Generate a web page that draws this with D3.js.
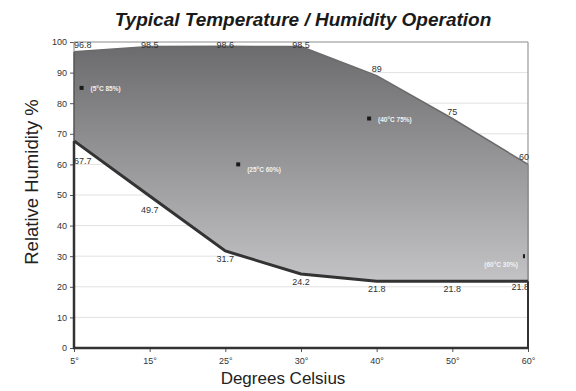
<!DOCTYPE html>
<html><head><meta charset="utf-8">
<script src="https://cdn.jsdelivr.net/npm/d3@7"></script>
<style>body{margin:0;background:#fff}svg{display:block;font-family:"Liberation Sans",Arial,sans-serif}</style>
</head><body><svg id="c" width="576" height="391"></svg>
<script>
const categories = ["5°","15°","25°","30°","40°","50°","60°"];
const upperHumidity = [96.8, 98.5, 98.6, 98.5, 89, 75, 60];
const lowerHumidity = [67.7, 49.7, 31.7, 24.2, 21.8, 21.8, 21.8];
const yTicks = [0,10,20,30,40,50,60,70,80,90,100];
// operating points: position along the category axis (index units), humidity, label
const pointPos = [0.1, 2.17, 3.9, 5.96];
const pointHumidity = [85, 60, 75, 30];
const pointLabels = ["(5°C 85%)","(25°C 60%)","(40°C 75%)","(60°C 30%)"];

const svg = d3.select("#c");
const L=74, R=528, T=42, B=348;
const x = d3.scalePoint().domain(categories).range([L,R]);
const xi = d3.scaleLinear().domain([0,categories.length-1]).range([L,R]);
const y = d3.scaleLinear().domain([0,100]).range([B,T]);

const defs = svg.append("defs");
const g = defs.append("linearGradient").attr("id","gr").attr("gradientUnits","userSpaceOnUse")
  .attr("x1",0).attr("x2",0).attr("y1",y(100)).attr("y2",y(21.8));
g.append("stop").attr("offset","0").attr("stop-color","#6a6a6d");
g.append("stop").attr("offset","1").attr("stop-color","#c3c3c5");

// gridlines
svg.append("g").selectAll("line").data(yTicks.filter(d=>d>0)).join("line")
  .attr("x1",L).attr("x2",R).attr("y1",d=>y(d)).attr("y2",d=>y(d))
  .attr("stroke","#e2e2e2").attr("stroke-width",1);

// frame top/right (light)
svg.append("line").attr("x1",L).attr("x2",R).attr("y1",y(100)).attr("y2",y(100)).attr("stroke","#9a9a9a").attr("stroke-width",1.2);
svg.append("line").attr("x1",R).attr("x2",R).attr("y1",y(100)).attr("y2",y(0)).attr("stroke","#9a9a9a").attr("stroke-width",1.2);

const rows = categories.map((c,i)=>({c, hi:upperHumidity[i], lo:lowerHumidity[i]}));
const area = d3.area().x(d=>x(d.c)).y0(d=>y(d.lo)).y1(d=>y(d.hi));
svg.append("path").datum(rows).attr("d",area).attr("fill","url(#gr)");

// upper edge
svg.append("path").datum(rows).attr("d",d3.line().x(d=>x(d.c)).y(d=>y(d.hi)))
  .attr("fill","none").attr("stroke","#6a6a6a").attr("stroke-width",1.5);
// right edge between upper and lower
svg.append("line").attr("x1",R).attr("x2",R).attr("y1",y(upperHumidity[6])).attr("y2",y(lowerHumidity[6]))
  .attr("stroke","#8a8a8a").attr("stroke-width",1.5);
// right frame below lower
svg.append("line").attr("x1",R).attr("x2",R).attr("y1",y(lowerHumidity[6])).attr("y2",y(0))
  .attr("stroke","#333").attr("stroke-width",2);
// lower edge
svg.append("path").datum(rows).attr("d",d3.line().x(d=>x(d.c)).y(d=>y(d.lo)))
  .attr("fill","none").attr("stroke","#333").attr("stroke-width",3);

// axes
const ya = svg.append("g").attr("transform",`translate(${L},0)`)
  .call(d3.axisLeft(y).tickValues(yTicks).tickSize(4).tickPadding(3));
ya.select(".domain").remove();
ya.selectAll("line").attr("stroke","#555");
ya.selectAll("text").attr("font-size",9).attr("fill","#333").attr("font-family","Liberation Sans, Arial");
svg.append("line").attr("x1",L).attr("x2",L).attr("y1",y(lowerHumidity[0])).attr("y2",y(0)+1).attr("stroke","#333").attr("stroke-width",2.5);
svg.append("line").attr("x1",L).attr("x2",L).attr("y1",y(upperHumidity[0])).attr("y2",y(lowerHumidity[0])).attr("stroke","#555").attr("stroke-width",1.5);
svg.append("line").attr("x1",L).attr("x2",L).attr("y1",y(100)).attr("y2",y(upperHumidity[0])).attr("stroke","#9a9a9a").attr("stroke-width",1.2);

const xa = svg.append("g").attr("transform",`translate(0,${B})`)
  .call(d3.axisBottom(x).tickSize(4).tickPadding(6));
xa.select(".domain").remove();
xa.selectAll("line").attr("stroke","#555");
xa.selectAll("text").attr("font-size",9).attr("fill","#333").attr("font-family","Liberation Sans, Arial");
svg.append("line").attr("x1",L-1).attr("x2",R+1).attr("y1",B).attr("y2",B).attr("stroke","#333").attr("stroke-width",2.5);

// value labels
function clampAnchor(i){ return i===0 ? "start" : (i===categories.length-1 ? "end" : "middle"); }
svg.append("g").selectAll("text").data(rows).join("text")
  .attr("x",(d,i)=> i===categories.length-1 ? R+1 : x(d.c))
  .attr("y",d=>Math.max(y(d.hi)-4, T+6))
  .attr("text-anchor",(d,i)=>clampAnchor(i))
  .attr("font-size",9).attr("fill","#333").text(d=>d.hi);
const loOff = [23,17,11,11,11,11,9];
svg.append("g").selectAll("text").data(rows).join("text")
  .attr("x",(d,i)=> i===categories.length-1 ? R+1 : x(d.c))
  .attr("y",(d,i)=>y(d.lo)+loOff[i])
  .attr("text-anchor",(d,i)=>clampAnchor(i))
  .attr("font-size",9).attr("fill","#333").text(d=>d.lo);

// points
const pts = pointPos.map((p,i)=>({p, h:pointHumidity[i], t:pointLabels[i]}));
svg.append("g").selectAll("rect").data(pts).join("rect")
  .attr("x",d=>xi(d.p)-2).attr("y",d=>y(d.h)-2).attr("width",(d,i)=>i===3?2:4).attr("height",4).attr("fill","#1a1a1a");
svg.append("g").selectAll("text").data(pts).join("text")
  .attr("x",(d,i)=> i===3 ? xi(d.p)-7 : xi(d.p)+9)
  .attr("y",(d,i)=> y(d.h) + (i===3 ? 11 : (i===1 ? 8 : 3)))
  .attr("text-anchor",(d,i)=> i===3 ? "end" : "start")
  .attr("font-size",6.5).attr("font-weight","bold").attr("fill","#f2f2f2").text(d=>d.t);

// titles
svg.append("text").attr("x",303).attr("y",26).attr("text-anchor","middle")
  .attr("font-size",19).attr("font-weight","bold").attr("font-style","italic").attr("fill","#1a1a1a")
  .text("Typical Temperature / Humidity Operation");
svg.append("text").attr("x",283).attr("y",384).attr("text-anchor","middle")
  .attr("font-size",17).attr("fill","#222").text("Degrees Celsius");
svg.append("text").attr("transform","translate(38,182) rotate(-90)").attr("text-anchor","middle")
  .attr("font-size",18.5).attr("fill","#222").text("Relative Humidity %");
</script></body></html>
